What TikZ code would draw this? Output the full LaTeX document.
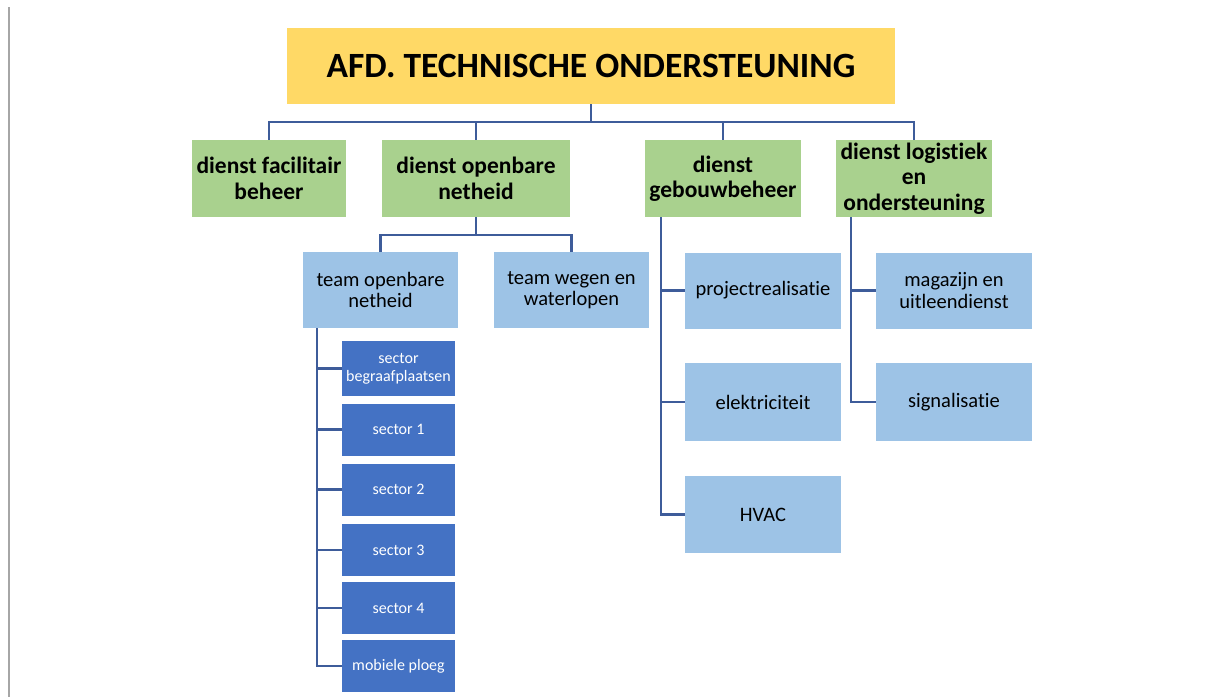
\documentclass[tikz,border=0pt]{standalone}
\usepackage{fontspec}
\setmainfont{Carlito}[Ligatures=NoCommon]
\usepackage{tikz}
\definecolor{titel}{HTML}{FFD966}
\definecolor{groen}{HTML}{A9D18E}
\definecolor{lichtblauw}{HTML}{9DC3E6}
\definecolor{donkerblauw}{HTML}{4472C4}
\definecolor{lijn}{HTML}{3E5C9A}

\begin{document}
\begin{tikzpicture}[x=1pt,y=-1pt]
		\tikzstyle{BoxStyle}=[inner sep=0pt,align=center,text=black]
		\tikzstyle{TitleStyle}=[BoxStyle,fill=titel,minimum width=608pt,minimum height=76pt,font=\fontsize{35.5}{40}\selectfont\bfseries]
		\tikzstyle{DienstStyle}=[BoxStyle,fill=groen,minimum width=156pt,minimum height=77pt,font=\fontsize{23.5}{25.5}\selectfont\bfseries]
		\tikzstyle{TeamStyle}=[BoxStyle,fill=lichtblauw,minimum width=156pt,minimum height=76pt,font=\fontsize{20.5}{21.5}\selectfont]
		\tikzstyle{SectorStyle}=[BoxStyle,fill=donkerblauw,text=white,minimum width=113pt,minimum height=52pt,font=\fontsize{16}{18}\selectfont]
		\tikzstyle{EdgeStyle}=[draw=lijn,line width=2.2pt]
		\useasboundingbox (0,0) rectangle (1208,697);
		\draw[gray!70,line width=2.5pt] (9,7) -- (9,697);

		% afdeling
		\node[TitleStyle] (afd) at (591,66) {AFD. TECHNISCHE ONDERSTEUNING};

		% diensten
		\node[DienstStyle,minimum width=154pt] (fac) at (269,178.5) {dienst facilitair\\beheer};
		\node[DienstStyle,minimum width=188pt] (opn) at (476,178.5) {dienst openbare\\netheid};
		\node[DienstStyle] (geb) at (723,178.5) {dienst\\gebouwbeheer};
		\node[DienstStyle] (log) at (914,178.5) {dienst logistiek\\en\\ondersteuning};

		% teams
		\node[TeamStyle,minimum width=155pt] (ton) at (380.5,290) {team openbare\\netheid};
		\node[TeamStyle,minimum width=155pt] (tww) at (571.5,290) {team wegen en\\waterlopen};
		\node[TeamStyle] (proj) at (763,290.5) {projectrealisatie};
		\node[TeamStyle] (mag) at (954,290.5) {magazijn en\\uitleendienst};
		\node[TeamStyle,minimum height=78pt] (elek) at (763,402) {elektriciteit};
		\node[TeamStyle,minimum height=78pt] (sig) at (954,402) {signalisatie};
		\node[TeamStyle,minimum height=77pt] (hvac) at (763,514.5) {HVAC};

		% sectoren
		\node[SectorStyle,minimum height=55pt] (begr) at (398.5,368.5) {sector\\begraafplaatsen};
		\node[SectorStyle] (s1) at (398.5,429.5) {sector 1};
		\node[SectorStyle] (s2) at (398.5,489.5) {sector 2};
		\node[SectorStyle] (s3) at (398.5,550) {sector 3};
		\node[SectorStyle] (s4) at (398.5,608) {sector 4};
		\node[SectorStyle] (mob) at (398.5,666) {mobiele ploeg};

		% verbindingen
		\coordinate (top) at (591,122);
		\draw[EdgeStyle] (afd.south) -- (top);
		\draw[EdgeStyle] (fac.north) |- (top) -| (log.north);
		\draw[EdgeStyle] (top -| opn.north) -- (opn.north);
		\draw[EdgeStyle] (top -| geb.north) -- (geb.north);

		\coordinate (opnbus) at (476,235);
		\draw[EdgeStyle] (opn.south) -- (opnbus);
		\draw[EdgeStyle] (ton.north) |- (opnbus) -| (tww.north);

		\coordinate (sbus) at ([xshift=14pt]ton.south west);
		\draw[EdgeStyle] (sbus) |- (mob.west);
		\draw[EdgeStyle] (sbus |- begr.west) -- (begr.west);
		\draw[EdgeStyle] (sbus |- s1.west) -- (s1.west);
		\draw[EdgeStyle] (sbus |- s2.west) -- (s2.west);
		\draw[EdgeStyle] (sbus |- s3.west) -- (s3.west);
		\draw[EdgeStyle] (sbus |- s4.west) -- (s4.west);

		\coordinate (gbus) at ([xshift=16pt]geb.south west);
		\draw[EdgeStyle] (gbus) |- (hvac.west);
		\draw[EdgeStyle] (gbus |- proj.west) -- (proj.west);
		\draw[EdgeStyle] (gbus |- elek.west) -- (elek.west);

		\coordinate (lbus) at ([xshift=15pt]log.south west);
		\draw[EdgeStyle] (lbus) |- (sig.west);
		\draw[EdgeStyle] (lbus |- mag.west) -- (mag.west);
	\end{tikzpicture}
\end{document}
